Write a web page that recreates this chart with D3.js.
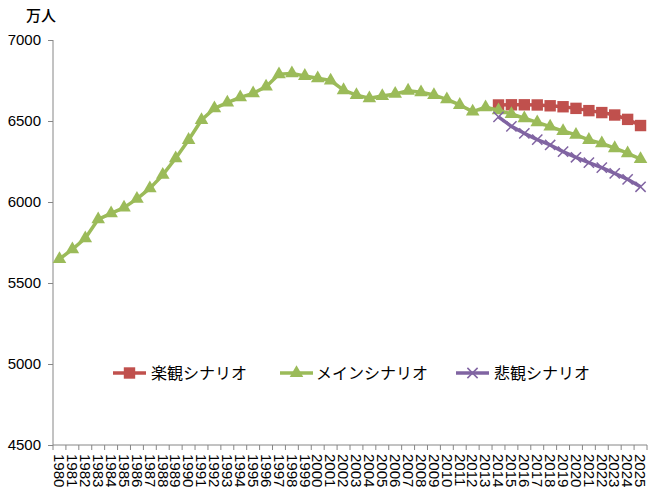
<!DOCTYPE html>
<html>
<head>
<meta charset="utf-8">
<script src="https://cdn.jsdelivr.net/npm/d3@7/dist/d3.min.js"></script>
<style>
  html, body { margin: 0; padding: 0; background: #fff; }
  svg { display: block; }
  text { font-family: "Liberation Sans", Arial, sans-serif; fill: #000; }
  .jp { font-family: "Noto Sans CJK JP", "Noto Sans", sans-serif; }
</style>
</head>
<body>
<svg id="chart" width="649" height="489"></svg>
<script>
// Population (万人), 1980–2025
const years = d3.range(1980, 2026).map(String);
const projYears = d3.range(2014, 2026).map(String);

const mainValues = [
  5648, 5708, 5776, 5893, 5930, 5965, 6019, 6084, 6167, 6270,
  6383, 6506, 6578, 6613, 6646, 6671, 6712, 6788, 6794, 6778,
  6764, 6750, 6690, 6660, 6640, 6654, 6667, 6687, 6677, 6660,
  6634, 6599, 6558, 6585, 6566, 6543, 6517, 6492, 6465, 6438,
  6414, 6383, 6362, 6332, 6301, 6265
];
const optimisticValues = [6599, 6600, 6600, 6599, 6594, 6588, 6578, 6564, 6552, 6537, 6510, 6472];
const pessimisticValues = [6525, 6467, 6424, 6385, 6352, 6311, 6276, 6243, 6212, 6177, 6140, 6094];

const yTicks = [4500, 5000, 5500, 6000, 6500, 7000];
const unitLabel = "万人";
const seriesNames = ["楽観シナリオ", "メインシナリオ", "悲観シナリオ"];
const seriesColors = ["#C0504D", "#9BBB59", "#8064A2"];

const svg = d3.select("#chart");
const plotLeft = 53, plotRight = 647, plotTop = 40, plotBottom = 445;

const x = d3.scaleBand().domain(years).range([plotLeft, plotRight]);
const y = d3.scaleLinear().domain([4500, 7000]).range([plotBottom, plotTop]);
const cx = d => x(d) + x.bandwidth() / 2;

// Y axis
const yAxis = svg.append("g")
  .attr("transform", `translate(${plotLeft},0)`)
  .call(d3.axisLeft(y).tickValues(yTicks).tickSize(5).tickPadding(7).tickFormat(d3.format("d")));
yAxis.selectAll("path, line").attr("stroke", "#868686").attr("stroke-width", 1);
yAxis.select(".domain").attr("d", `M0,${plotTop}V${plotBottom}`);
yAxis.selectAll("text").attr("font-size", 15).attr("font-family", "Liberation Sans, Arial, sans-serif");

// X axis with ticks on category boundaries
const xAxisG = svg.append("g").attr("transform", `translate(0,${plotBottom})`);
xAxisG.append("line").attr("x1", plotLeft).attr("x2", plotRight).attr("stroke", "#868686");
const boundaries = years.map(d => x(d)).concat([plotRight]);
xAxisG.selectAll("line.tick").data(boundaries).join("line")
  .attr("class", "tick")
  .attr("x1", d => d).attr("x2", d => d).attr("y1", 0).attr("y2", 5)
  .attr("stroke", "#868686");
xAxisG.selectAll("text").data(years).join("text")
  .attr("transform", d => `translate(${cx(d)},9) rotate(90)`)
  .attr("dy", "0.35em")
  .attr("font-size", 15)
  .text(d => d);

// Unit label
svg.append("text").attr("class", "jp")
  .attr("x", 26).attr("y", 21)
  .attr("font-size", 15).attr("font-weight", 500)
  .text(unitLabel);

// Series
const line = d3.line().x(d => cx(d[0])).y(d => y(d[1]));
const series = [
  { name: seriesNames[0], color: seriesColors[0], data: d3.zip(projYears, optimisticValues), symbol: d3.symbolSquare, size: 130, stroke: false },
  { name: seriesNames[1], color: seriesColors[1], data: d3.zip(years, mainValues), symbol: d3.symbolTriangle, size: 80, stroke: false },
  { name: seriesNames[2], color: seriesColors[2], data: d3.zip(projYears, pessimisticValues), symbol: d3.symbolX, size: 70, stroke: true }
];

function drawMarker(g, s, tx, ty) {
  const p = g.append("path")
    .attr("d", d3.symbol(s.symbol, s.size)())
    .attr("transform", `translate(${tx},${ty})`);
  if (s.stroke) p.attr("fill", "none").attr("stroke", s.color).attr("stroke-width", 1.5);
  else p.attr("fill", s.color);
}

series.forEach(s => {
  const g = svg.append("g");
  g.append("path").datum(s.data).attr("d", line)
    .attr("fill", "none").attr("stroke", s.color).attr("stroke-width", 3.5)
    .attr("stroke-linejoin", "round");
  s.data.forEach(d => drawMarker(g, s, cx(d[0]), y(d[1])));
});

// Legend
const legendItems = [
  { x: 113, textX: 151 },
  { x: 280, textX: 316 },
  { x: 456, textX: 494 }
];
const ly = 373;
series.forEach((s, i) => {
  const g = svg.append("g");
  const lx = legendItems[i].x;
  g.append("line").attr("x1", lx).attr("x2", lx + 33).attr("y1", ly).attr("y2", ly)
    .attr("stroke", s.color).attr("stroke-width", 3.5);
  drawMarker(g, s, lx + 16.5, ly);
  g.append("text").attr("class", "jp")
    .attr("x", legendItems[i].textX).attr("y", ly).attr("dy", "0.35em")
    .attr("font-size", 16).text(s.name);
});
</script>
</body>
</html>
